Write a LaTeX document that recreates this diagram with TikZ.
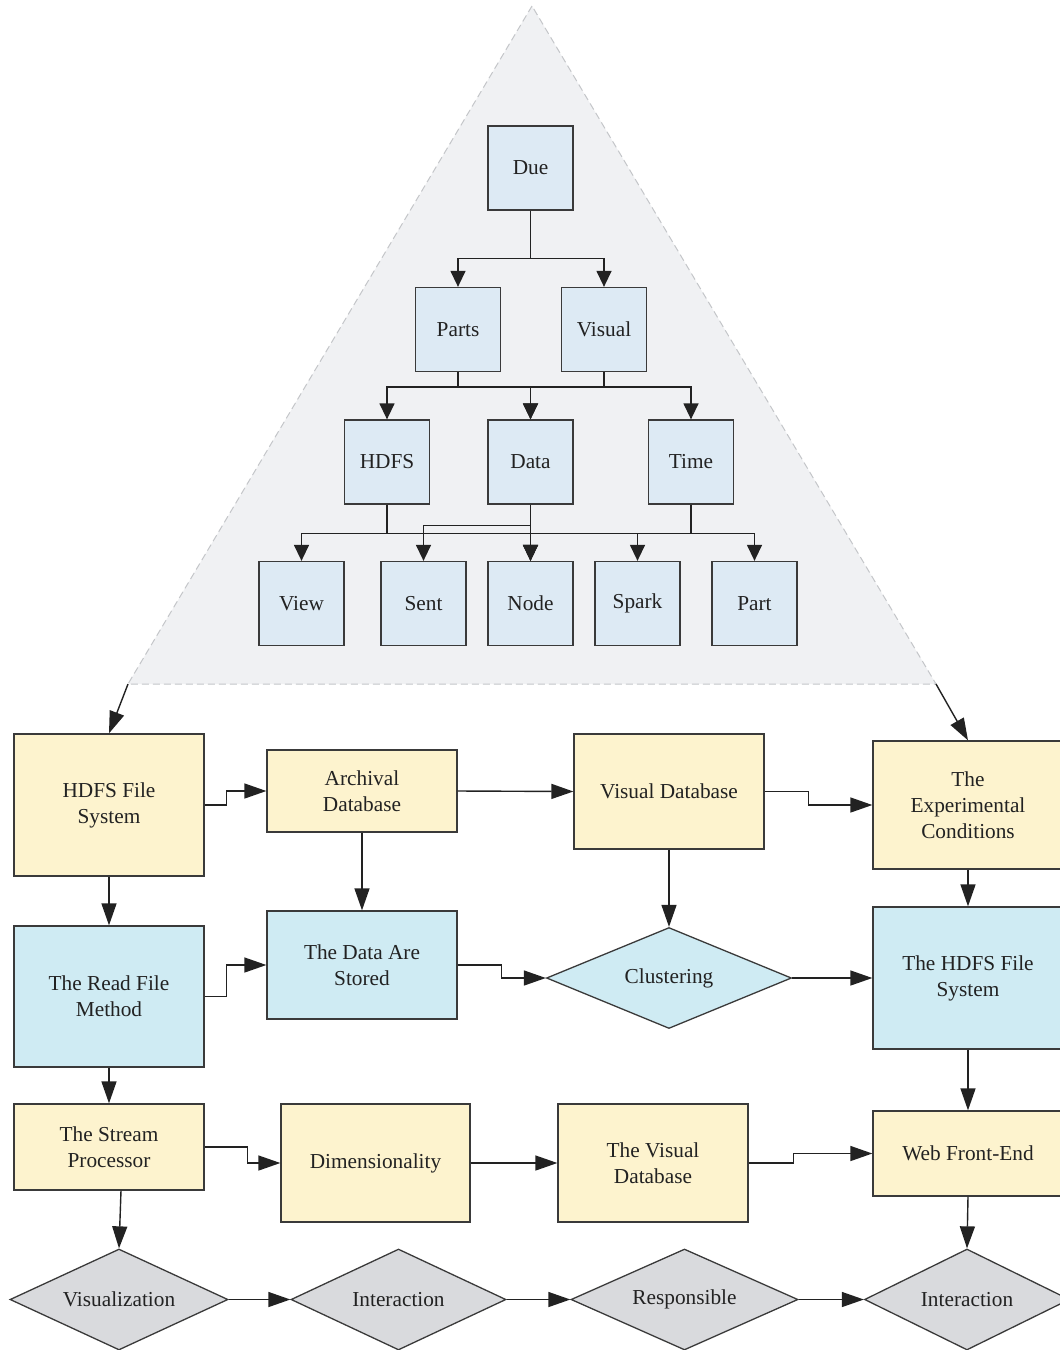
\documentclass[tikz,border=0pt]{standalone}
\usepackage{fontspec}
\setmainfont{Liberation Serif}
\usetikzlibrary{shapes.geometric,arrows.meta,calc}
\definecolor{yel}{HTML}{FDF3CE}
\definecolor{blu}{HTML}{CFEBF3}
\definecolor{tre}{HTML}{DDEAF4}
\definecolor{tri}{HTML}{F0F1F3}
\definecolor{gry}{HTML}{D9DADD}
\definecolor{bord}{HTML}{3A3A3A}
\definecolor{txt}{HTML}{222222}
\definecolor{dsh}{HTML}{C4C6C9}
\begin{document}
\begin{tikzpicture}[x=1pt,y=-1pt,
  base/.style={draw=bord, line width=1.3pt, inner sep=0pt, align=center, text=txt,
    font=\fontsize{21.3}{26}\selectfont},
  ybox/.style={base, rectangle, fill=yel, minimum width=190pt},
  bbox/.style={base, rectangle, fill=blu, minimum width=190pt},
  tbox/.style={base, rectangle, fill=tre, minimum width=85pt, minimum height=84pt},
  gdia/.style={base, diamond, aspect=2.2, fill=gry, minimum height=101pt},
  bdia/.style={base, diamond, aspect=2.4, fill=blu, minimum height=101pt},
  arrF/.style={draw=txt, line width=1.4pt, -{Triangle[length=22pt,width=15pt]}},
  arrT/.style={draw=txt, line width=1.4pt, -{Triangle[length=16pt,width=15pt]}}
]
\useasboundingbox (0,0) rectangle (1060,1350);
\fill[white] (0,0) rectangle (1060,1350);

% triangle
\coordinate (apex) at (532,6);
\coordinate (tl) at (128,684);
\coordinate (tr) at (936,684);
\filldraw[fill=tri, draw=dsh, line width=1pt, dash pattern=on 7pt off 4pt] (apex) -- (tl) -- (tr) -- cycle;

% tree
\node[tbox] (due) at (530.5,168) {Due};
\node[tbox] (parts) at (458,329.5) {Parts};
\node[tbox] (visual) at (604,329.5) {Visual};
\node[tbox] (hdfs) at (387,462) {HDFS};
\node[tbox] (data) at (530.5,462) {Data};
\node[tbox] (time) at (691,462) {Time};
\node[tbox] (view) at (301.5,603.5) {View};
\node[tbox] (sent) at (423.5,603.5) {Sent};
\node[tbox] (nodeb) at (530.5,603.5) {Node};
\node[tbox] (spark) at (637.5,603.5) {Spark};
\node[tbox] (part) at (754.5,603.5) {Part};

\draw[arrT] (due.south) -- ++(0,48) -| (parts.north);
\draw[arrT] (due.south) -- ++(0,48) -| (visual.north);
\draw[arrT] (parts.south) -- ++(0,15) -| (hdfs.north);
\draw[arrT] (parts.south) -- ++(0,15) -| (data.north);
\draw[arrT] (visual.south) -- ++(0,15) -| (data.north);
\draw[arrT] (visual.south) -- ++(0,15) -| (time.north);
\draw[arrT] (hdfs.south) -- ++(0,29) -| (view.north);
\draw[arrT] (hdfs.south) -- ++(0,29) -| (nodeb.north);
\draw[arrT] (data.south) -- ++(0,21) -| (sent.north);
\draw[arrT] (data.south) -- (nodeb.north);
\draw[arrT] (time.south) -- ++(0,29) -| (nodeb.north);
\draw[arrT] (time.south) -- ++(0,29) -| (spark.north);
\draw[arrT] (time.south) -- ++(0,29) -| (part.north);

% flow nodes
\node[ybox, minimum height=142pt] (hfs) at (109,805) {HDFS File\\System};
\node[ybox, minimum height=82pt] (arch) at (362,791) {Archival\\Database};
\node[ybox, minimum height=115pt] (vdb) at (669,791.5) {Visual Database};
\node[ybox, minimum height=128pt] (exp) at (968,805) {The\\Experimental\\Conditions};

\node[bbox, minimum height=141pt] (rfm) at (109,996.5) {The Read File\\Method};
\node[bbox, minimum height=108pt] (stored) at (362,965) {The Data Are\\Stored};
\node[bdia, minimum width=245pt] (clus) at (669,978) {Clustering};
\node[bbox, minimum height=142pt] (hdfs2) at (968,978) {The HDFS File\\System};

\node[ybox, minimum height=86pt] (stream) at (109,1147) {The Stream\\Processor};
\node[ybox, minimum height=118pt, minimum width=189pt] (dim) at (375.5,1163) {Dimensionality};
\node[ybox, minimum height=118pt] (vdb2) at (653,1163) {The Visual\\Database};
\node[ybox, minimum height=85pt] (web) at (968,1153.5) {Web Front-End};

\node[gdia, minimum width=218pt] (vis) at (119,1299.5) {Visualization};
\node[gdia, minimum width=215pt] (int1) at (398.5,1299.5) {Interaction};
\node[gdia, minimum width=227pt] (resp) at (684.5,1299.5) {Responsible};
\node[gdia, minimum width=205pt] (int2) at (967,1299.5) {Interaction};

% flow connectors
\draw[arrF] (tl) -- (hfs.north);
\draw[arrF] (tr) -- (exp.north);
\draw[arrF] (hfs.east) -- ++(22,0) |- (arch.west);
\draw[arrF] (arch.east) -- (vdb.west);
\draw[arrF] (vdb.east) -- ++(44,0) |- (exp.west);
\draw[arrF] (hfs.south) -- (rfm.north);
\draw[arrF] (arch.south) -- (stored.north);
\draw[arrF] (vdb.south) -- (clus.north);
\draw[arrF] (exp.south) -- (hdfs2.north);
\draw[arrF] (rfm.east) -- ++(22,0) |- (stored.west);
\draw[arrF] (stored.east) -- ++(44,0) |- (clus.west);
\draw[arrF] (clus.east) -- (hdfs2.west);
\draw[arrF] (rfm.south) -- (stream.north);
\draw[arrF] (hdfs2.south) -- (web.north);
\draw[arrF] (stream.east) -- ++(43,0) |- (dim.west);
\draw[arrF] (dim.east) -- (vdb2.west);
\draw[arrF] (vdb2.east) -- ++(45,0) |- (web.west);
\draw[arrF] ($(stream.south)+(12,0)$) -- (vis.north);
\draw[arrF] (web.south) -- (int2.north);
\draw[arrF] (vis.east) -- (int1.west);
\draw[arrF] (int1.east) -- (resp.west);
\draw[arrF] (resp.east) -- (int2.west);
\end{tikzpicture}
\end{document}
